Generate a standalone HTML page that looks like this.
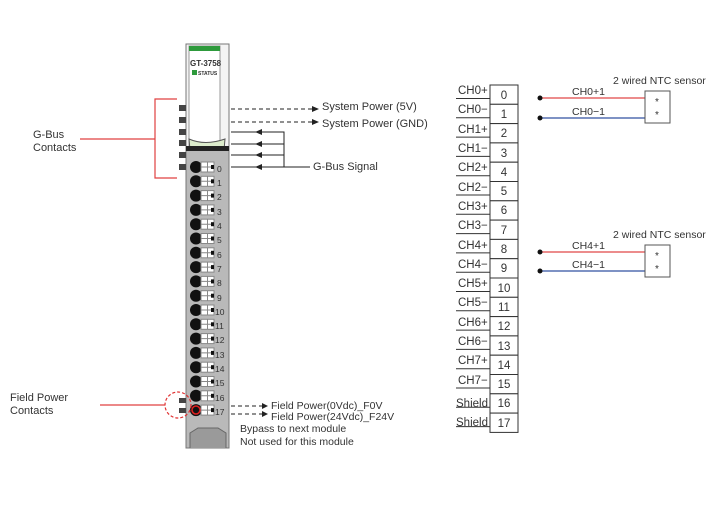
<!DOCTYPE html>
<html><head><meta charset="utf-8"><style>
body{margin:0;background:#fff;}
svg text{font-family:"Liberation Sans",sans-serif;fill:#333;}
</style></head><body>
<svg id="s" width="720" height="500" viewBox="0 0 720 500" xmlns="http://www.w3.org/2000/svg">
<rect x="186" y="44" width="43" height="404" fill="#f4f4f4" stroke="#777" stroke-width="1"/>
<rect x="186" y="150" width="43" height="298" fill="#b9b9b9" stroke="#777"/>
<rect x="189" y="46" width="31" height="104" fill="#fff" stroke="#999"/>
<rect x="189" y="46" width="31" height="5" fill="#2e9a3c"/>
<text x="190" y="66" font-size="8" font-weight="bold" fill="#222">GT-3758</text>
<rect x="192" y="70" width="5" height="5" fill="#2e9a3c"/>
<text x="198" y="75" font-size="5" font-weight="bold">STATUS</text>
<path d="M189 139 Q205 146 225 139 L224 150 L190 150 Z" fill="#dceccc" stroke="#555"/>
<rect x="186" y="146" width="43" height="5" fill="#222"/>
<g id="mod"></g>
<g fill="#444">
<rect x="179" y="105" width="7" height="6"/><rect x="179" y="117" width="7" height="6"/><rect x="179" y="129" width="7" height="6"/><rect x="179" y="140" width="7" height="6"/><rect x="179" y="152" width="7" height="6"/><rect x="179" y="164" width="7" height="6"/>
<rect x="179" y="398" width="7" height="5"/><rect x="179" y="408" width="7" height="5"/>
</g>
<path d="M177 99 H155 V178 H177 M155 139 H80" fill="none" stroke="#e04040" stroke-width="1.2"/>
<text x="33" y="138" font-size="11">G-Bus</text>
<text x="33" y="151" font-size="11">Contacts</text>
<circle cx="178" cy="405" r="13" fill="none" stroke="#e03030" stroke-dasharray="3,2" stroke-width="1.2"/>
<path d="M165 405 H100" stroke="#e04040" stroke-width="1.2"/>
<text x="10" y="401" font-size="11">Field Power</text>
<text x="10" y="414" font-size="11">Contacts</text>
<g stroke="#222" fill="none" stroke-width="1">
<path d="M231 109 H312 M231 122 H312" stroke-dasharray="4,3"/>
<path d="M231 132 H256 M231 144 H256 M231 155 H256 M231 167 H256 M262 132 H284 V167 M262 144 H284 M262 155 H284 M262 167 H310"/>
<path d="M231 406 H262 M231 414 H262" stroke-dasharray="4,3"/>
</g>
<g fill="#222">
<path d="M319 109 l-7 -3 v6z"/><path d="M319 122 l-7 -3 v6z"/>
<path d="M255 132 l7 -3 v6z"/><path d="M255 144 l7 -3 v6z"/><path d="M255 155 l7 -3 v6z"/><path d="M255 167 l7 -3 v6z"/>
<path d="M268 406 l-6 -3 v6z"/><path d="M268 414 l-6 -3 v6z"/>
</g>
<text x="322" y="110" font-size="11">System Power (5V)</text>
<text x="322" y="127" font-size="11">System Power (GND)</text>
<text x="313" y="170" font-size="11">G-Bus Signal</text>
<text x="271" y="409" font-size="10.5">Field Power(0Vdc)_F0V</text>
<text x="271" y="420" font-size="10.5">Field Power(24Vdc)_F24V</text>
<text x="240" y="432" font-size="10.5">Bypass to next module</text>
<text x="240" y="445" font-size="10.5">Not used for this module</text>
<g id="tb"></g>
<g font-size="11.5">
<text x="458" y="94">CH0+</text><text x="458" y="113">CH0−</text><text x="458" y="133">CH1+</text><text x="458" y="152">CH1−</text>
<text x="458" y="171">CH2+</text><text x="458" y="191">CH2−</text><text x="458" y="210">CH3+</text><text x="458" y="229">CH3−</text>
<text x="458" y="249">CH4+</text><text x="458" y="268">CH4−</text><text x="458" y="287">CH5+</text><text x="458" y="306">CH5−</text>
<text x="458" y="326">CH6+</text><text x="458" y="345">CH6−</text><text x="458" y="364">CH7+</text><text x="458" y="384">CH7−</text>
<text x="456" y="407">Shield</text><text x="456" y="426">Shield</text>
</g>
<g font-size="11.5" text-anchor="middle">
<text x="504" y="99">0</text><text x="504" y="118">1</text><text x="504" y="137">2</text><text x="504" y="157">3</text>
<text x="504" y="176">4</text><text x="504" y="195">5</text><text x="504" y="214">6</text><text x="504" y="234">7</text>
<text x="504" y="253">8</text><text x="504" y="272">9</text><text x="504" y="292">10</text><text x="504" y="311">11</text>
<text x="504" y="330">12</text><text x="504" y="350">13</text><text x="504" y="369">14</text><text x="504" y="388">15</text>
<text x="504" y="407">16</text><text x="504" y="427">17</text>
</g>
<g font-size="8.5" fill="#555">
<text x="217" y="172">0</text><text x="217" y="186">1</text><text x="217" y="200">2</text><text x="217" y="215">3</text>
<text x="217" y="229">4</text><text x="217" y="243">5</text><text x="217" y="258">6</text><text x="217" y="272">7</text>
<text x="217" y="286">8</text><text x="217" y="301">9</text><text x="215" y="315">10</text><text x="215" y="329">11</text>
<text x="215" y="343">12</text><text x="215" y="358">13</text><text x="215" y="372">14</text><text x="215" y="386">15</text>
<text x="215" y="401">16</text><text x="215" y="415">17</text>
</g>
<g stroke-width="1.3">
<path d="M540 98 H645" stroke="#e04848"/><path d="M540 118 H645" stroke="#3050a0"/>
<path d="M540 252 H645" stroke="#e04848"/><path d="M540 271 H645" stroke="#3050a0"/>
</g>
<g fill="#111"><circle cx="540" cy="98" r="2.5"/><circle cx="540" cy="118" r="2.5"/><circle cx="540" cy="252" r="2.5"/><circle cx="540" cy="271" r="2.5"/></g>
<rect x="645" y="91" width="25" height="32" fill="#fff" stroke="#555"/>
<rect x="645" y="245" width="25" height="32" fill="#fff" stroke="#555"/>
<g font-size="10" text-anchor="middle"><text x="657" y="105">*</text><text x="657" y="118">*</text><text x="657" y="259">*</text><text x="657" y="272">*</text></g>
<g font-size="10.5"><text x="572" y="95">CH0+1</text><text x="572" y="115">CH0−1</text><text x="572" y="249">CH4+1</text><text x="572" y="268">CH4−1</text>
<text x="613" y="84">2 wired NTC sensor</text><text x="613" y="238">2 wired NTC sensor</text></g>
</svg>
<script>
var ns="http://www.w3.org/2000/svg";
function el(p,t,a){var e=document.createElementNS(ns,t);for(var k in a)e.setAttribute(k,a[k]);p.appendChild(e);return e;}
var m=document.getElementById("mod");
for(var i=0;i<18;i++){var y=167+i*14.3;
el(m,"circle",{cx:196,cy:y,r:6,fill:"#111"});
el(m,"rect",{x:201,y:y-5,width:13,height:10,fill:"#fff",stroke:"#888"});
el(m,"path",{d:"M207.5 "+(y-5)+" V"+(y+5)+" M201 "+y+" H214",stroke:"#888"});
el(m,"rect",{x:211,y:y-2,width:3,height:4,fill:"#111"});}
el(m,"circle",{cx:196,cy:410,r:4,fill:"none",stroke:"#e02020","stroke-width":1.5});
el(m,"path",{d:"M190 448 V433 L198 428 H218 L226 433 V448",fill:"#9a9a9a",stroke:"#666"});
var tb=document.getElementById("tb");
for(var i=0;i<18;i++){var y=85+i*19.3;
el(tb,"rect",{x:490,y:y,width:28,height:19.3,fill:"#fff",stroke:"#333"});
el(tb,"path",{d:"M456 "+(y+13.5)+" H490",stroke:"#333"});}
</script>
</body></html>
